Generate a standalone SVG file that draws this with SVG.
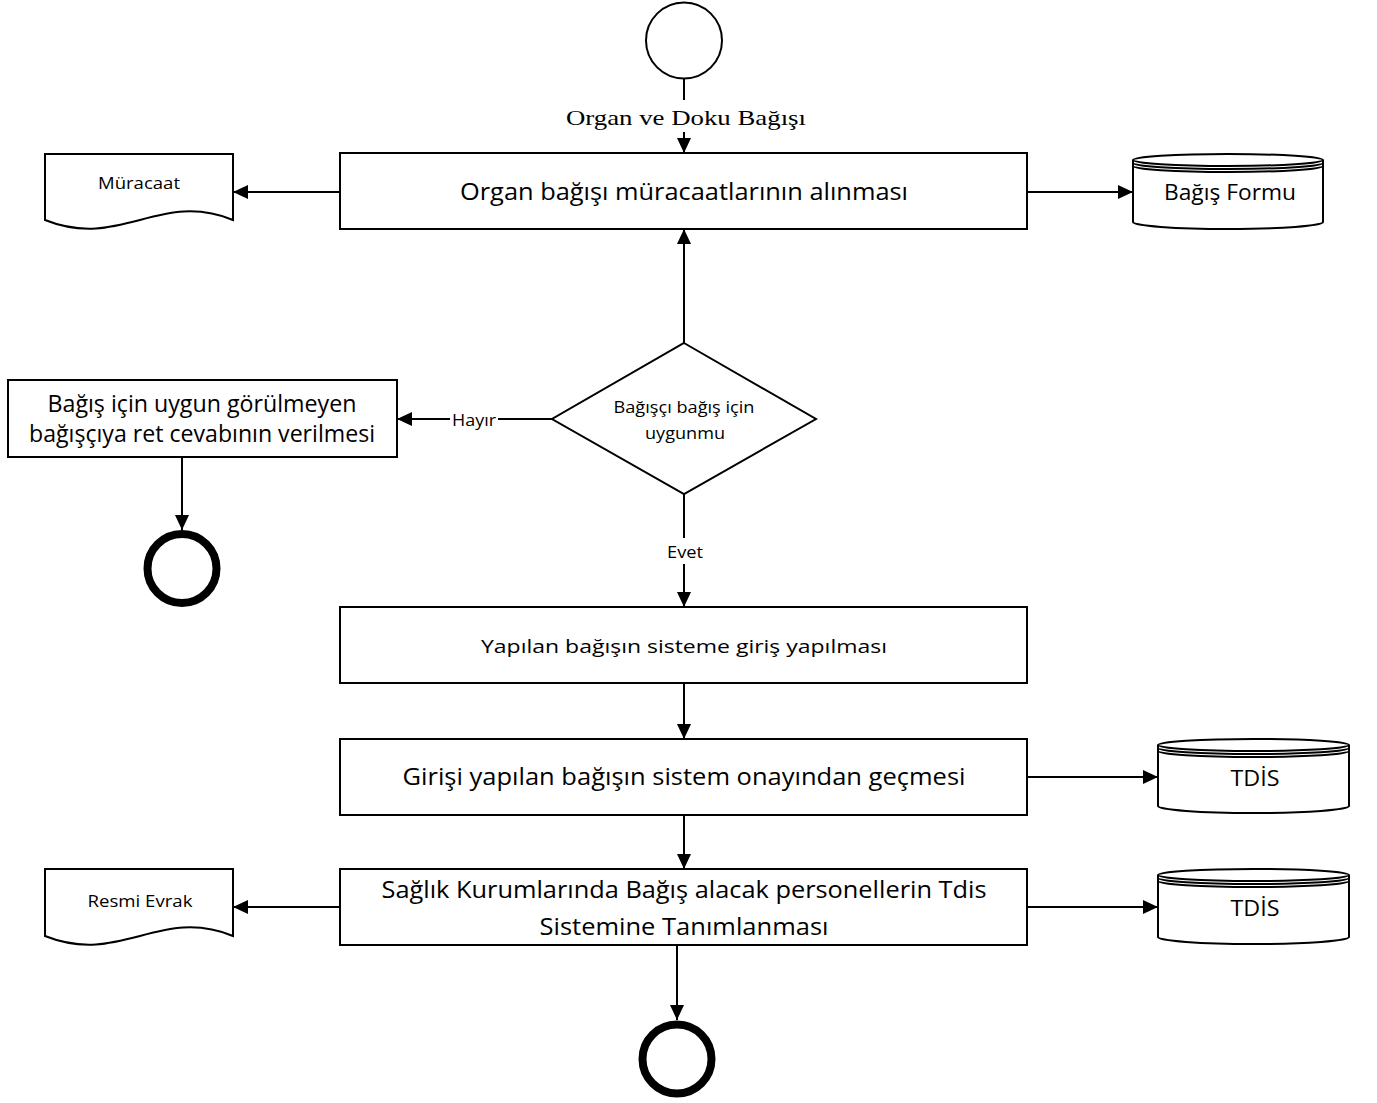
<svg xmlns="http://www.w3.org/2000/svg" width="1377" height="1103" viewBox="0 0 1377 1103">
<defs>
<marker id="ah" markerUnits="userSpaceOnUse" markerWidth="16" markerHeight="14" refX="15" refY="7" orient="auto">
<path d="M0,0 L15,7 L0,14 Z" fill="#000"/>
</marker>
<style>
.box{fill:#fff;stroke:#000;stroke-width:2}
.end{fill:none;stroke:#000;stroke-width:8}
.con{fill:none;stroke:#000;stroke-width:2}
.t{font-family:"Open Sans","Noto Sans","Liberation Sans",sans-serif;fill:#000;text-anchor:middle}
.serif{font-family:"Liberation Serif","DejaVu Serif",serif;fill:#000;text-anchor:middle}
</style>
</defs>
<rect width="1377" height="1103" fill="#fff"/>

<g id="connectors">
<path class="con" d="M684,79 V100"/>
<path class="con" d="M684,132 V153" marker-end="url(#ah)"/>
<path class="con" d="M340,192 H233" marker-end="url(#ah)"/>
<path class="con" d="M1027,192 H1133" marker-end="url(#ah)"/>
<path class="con" d="M684,343 V229" marker-end="url(#ah)"/>
<path class="con" d="M552,419 H397" marker-end="url(#ah)"/>
<rect x="450" y="408" width="48" height="22" fill="#fff"/>
<text class="t" x="474" y="426" font-size="17" textLength="44" lengthAdjust="spacingAndGlyphs">Hayır</text>
<path class="con" d="M182,457 V530" marker-end="url(#ah)"/>
<path class="con" d="M684,494 V607" marker-end="url(#ah)"/>
<rect x="662" y="538" width="44" height="26" fill="#fff"/>
<text class="t" x="685" y="558" font-size="17" textLength="36" lengthAdjust="spacingAndGlyphs">Evet</text>
<path class="con" d="M684,683 V739" marker-end="url(#ah)"/>
<path class="con" d="M1027,777 H1158" marker-end="url(#ah)"/>
<path class="con" d="M684,815 V869" marker-end="url(#ah)"/>
<path class="con" d="M340,907 H233" marker-end="url(#ah)"/>
<path class="con" d="M1027,907 H1158" marker-end="url(#ah)"/>
<path class="con" d="M677,945 V1020" marker-end="url(#ah)"/>
</g>

<g id="start">
<circle cx="684" cy="40.5" r="38" fill="#fff" stroke="#000" stroke-width="2"/>
</g>
<g id="label-start">
<text class="serif" x="686" y="125" font-size="22" textLength="240" lengthAdjust="spacingAndGlyphs">Organ ve Doku Bağışı</text>
</g>

<g id="box1">
<rect class="box" x="340" y="153" width="687" height="76"/>
<text class="t" x="684" y="200" font-size="23" textLength="448" lengthAdjust="spacingAndGlyphs">Organ bağışı müracaatlarının alınması</text>
</g>

<g id="doc-muracaat">
<path class="box" d="M45,154 H233 V220 C160,190 120,250 45,220 Z"/>
<text class="t" x="139" y="189" font-size="17" textLength="82" lengthAdjust="spacingAndGlyphs">Müracaat</text>
</g>

<g id="db-bagis-formu">
<path class="box" d="M1133,160 V222 A95,7 0 0 0 1323,222 V160"/>
<ellipse class="box" cx="1228" cy="160" rx="95" ry="6"/>
<path class="con" d="M1133,163 A95,6 0 0 0 1323,163"/>
<path class="con" d="M1133,166 A95,6 0 0 0 1323,166"/>
<text class="t" x="1230" y="200" font-size="22" textLength="132" lengthAdjust="spacingAndGlyphs">Bağış Formu</text>
</g>

<g id="decision">
<polygon class="box" points="684,343 816,419 684,494 552,419"/>
<text class="t" x="684" y="413" font-size="17" textLength="141" lengthAdjust="spacingAndGlyphs">Bağışçı bağış için</text>
<text class="t" x="685" y="439" font-size="17" textLength="80" lengthAdjust="spacingAndGlyphs">uygunmu</text>
</g>

<g id="box-reject">
<rect class="box" x="8" y="380" width="389" height="77"/>
<text class="t" x="202" y="412" font-size="23" textLength="309" lengthAdjust="spacingAndGlyphs">Bağış için uygun görülmeyen</text>
<text class="t" x="202" y="442" font-size="23" textLength="346" lengthAdjust="spacingAndGlyphs">bağışçıya ret cevabının verilmesi</text>
</g>

<g id="end-reject">
<circle class="end" cx="182" cy="568.5" r="34.5"/>
</g>

<g id="box2">
<rect class="box" x="340" y="607" width="687" height="76"/>
<text class="t" x="684" y="653" font-size="19" textLength="406" lengthAdjust="spacingAndGlyphs">Yapılan bağışın sisteme giriş yapılması</text>
</g>

<g id="box3">
<rect class="box" x="340" y="739" width="687" height="76"/>
<text class="t" x="684" y="785" font-size="23" textLength="563" lengthAdjust="spacingAndGlyphs">Girişi yapılan bağışın sistem onayından geçmesi</text>
</g>

<g id="db-tdis-1">
<path class="box" d="M1158,745 V806 A95.5,7 0 0 0 1349,806 V745"/>
<ellipse class="box" cx="1253.5" cy="745" rx="95.5" ry="6"/>
<path class="con" d="M1158,748 A95.5,6 0 0 0 1349,748"/>
<path class="con" d="M1158,751 A95.5,6 0 0 0 1349,751"/>
<text class="t" x="1255" y="786" font-size="22" textLength="49" lengthAdjust="spacingAndGlyphs">TDİS</text>
</g>

<g id="box4">
<rect class="box" x="340" y="869" width="687" height="76"/>
<text class="t" x="684" y="898" font-size="23" textLength="605" lengthAdjust="spacingAndGlyphs">Sağlık Kurumlarında Bağış alacak personellerin Tdis</text>
<text class="t" x="684" y="935" font-size="23" textLength="289" lengthAdjust="spacingAndGlyphs">Sistemine Tanımlanması</text>
</g>

<g id="doc-resmi-evrak">
<path class="box" d="M45,869 H233 V936 C160,906 120,966 45,936 Z"/>
<text class="t" x="140" y="907" font-size="17" textLength="105" lengthAdjust="spacingAndGlyphs">Resmi Evrak</text>
</g>

<g id="db-tdis-2">
<path class="box" d="M1158,875 V937 A95.5,7 0 0 0 1349,937 V875"/>
<ellipse class="box" cx="1253.5" cy="875" rx="95.5" ry="6"/>
<path class="con" d="M1158,878 A95.5,6 0 0 0 1349,878"/>
<path class="con" d="M1158,881 A95.5,6 0 0 0 1349,881"/>
<text class="t" x="1255" y="916" font-size="22" textLength="49" lengthAdjust="spacingAndGlyphs">TDİS</text>
</g>

<g id="end-main">
<circle class="end" cx="677" cy="1059" r="34.5"/>
</g>
</svg>
